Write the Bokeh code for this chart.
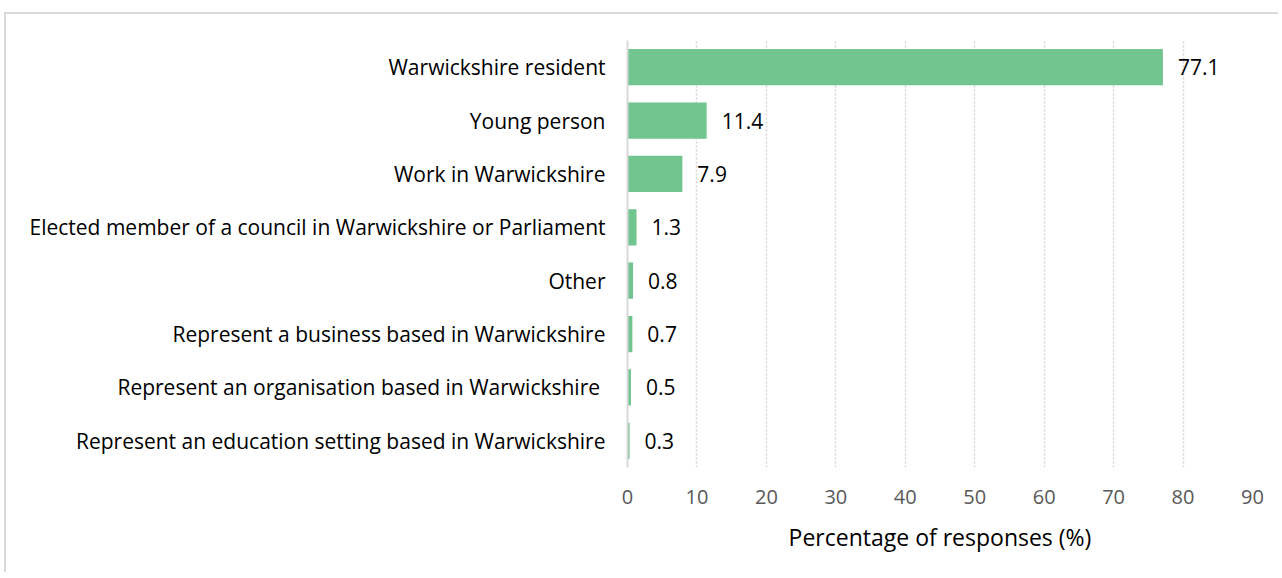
from bokeh.plotting import figure
from bokeh.models import ColumnDataSource, FixedTicker, Range1d
from bokeh.core.properties import value
from bokeh.embed import file_html
from bokeh.resources import INLINE

categories = [
    "Warwickshire resident",
    "Young person",
    "Work in Warwickshire",
    "Elected member of a council in Warwickshire or Parliament",
    "Other",
    "Represent a business based in Warwickshire",
    "Represent an organisation based in Warwickshire ",
    "Represent an education setting based in Warwickshire",
]
values = [77.1, 11.4, 7.9, 1.3, 0.8, 0.7, 0.5, 0.3]
value_labels = ["77.1", "11.4", "7.9", "1.3", "0.8", "0.7", "0.5", "0.3"]
x_ticks = [0, 10, 20, 30, 40, 50, 60, 70, 80, 90]

FONT = "Open Sans"
BAR = "#71C58F"

src = ColumnDataSource(dict(cat=categories, val=values, lab=value_labels))

p = figure(
    width=1274, height=560,
    y_range=list(reversed(categories)),
    x_range=Range1d(0, 90),
    output_backend="svg", toolbar_location=None,
    min_border_left=621, min_border_right=28,
    min_border_top=26, min_border_bottom=107,
)
p.styles = {"border-left": "2px solid #D9D9D9",
            "border-top": "2px solid #D9D9D9",
            "margin-left": "4px", "margin-top": "12px"}
p.outline_line_color = None
p.background_fill_color = "white"
p.border_fill_color = "white"

p.hbar(y="cat", right="val", left=0, height=0.68, source=src,
       fill_color=BAR, line_color=None)
p.text(x="val", y="cat", text="lab", source=src, x_offset=15,
       text_baseline="middle", text_align="left", text_color="#000000",
       text_font=value(FONT), text_font_size="21px")

p.xaxis.ticker = FixedTicker(ticks=x_ticks)
p.xaxis.axis_line_color = None
p.xaxis.major_tick_line_color = None
p.xaxis.minor_tick_line_color = None
p.xaxis.major_label_text_font = FONT
p.xaxis.major_label_text_font_size = "20px"
p.xaxis.major_label_text_color = "#595959"
p.xaxis.major_label_standoff = 16
p.xaxis.axis_label = "Percentage of responses (%)"
p.xaxis.axis_label_text_font = FONT
p.xaxis.axis_label_text_font_size = "23px"
p.xaxis.axis_label_text_font_style = "normal"
p.xaxis.axis_label_text_color = "#000000"
p.xaxis.axis_label_standoff = 14

p.yaxis.axis_line_color = "#D9D9D9"
p.yaxis.axis_line_width = 2
p.yaxis.major_tick_line_color = None
p.yaxis.minor_tick_line_color = None
p.yaxis.major_label_text_font = FONT
p.yaxis.major_label_text_font_size = "21px"
p.yaxis.major_label_text_color = "#000000"
p.yaxis.major_label_standoff = 16

p.xgrid.grid_line_color = "#D4D4D4"
p.xgrid.grid_line_dash = "2 2"
p.xgrid.grid_line_width = 1.5
p.ygrid.grid_line_color = None

open("out.html", "w").write(file_html(p, INLINE))
